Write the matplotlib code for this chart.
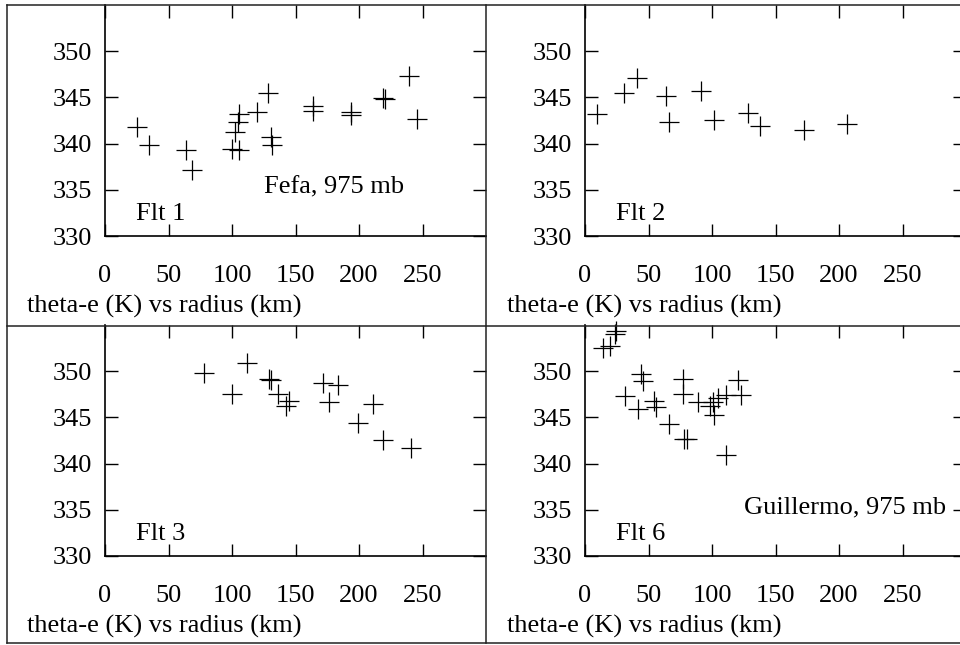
#!/usr/bin/env python
# theta-e vs radius, four flights in a 2x2 grid with boxed panels

import matplotlib
matplotlib.use('Agg')
import matplotlib.pyplot as plt
from matplotlib.lines import Line2D

plt.rcParams['font.family'] = ['Liberation Serif', 'DejaVu Serif']

# Flt 1 (Fefa)
flt1_r = [24.9, 34.6, 63.5, 68.5, 100.2, 105.7, 102.4, 104.5, 105.7, 119.4, 128.1,
          130.7, 131.7, 163.5, 163.5, 193.7, 193.7, 219.1, 220.5, 239.6, 245.4]
flt1_te = [341.75, 339.8, 339.26, 337.09, 339.44, 339.26, 341.21, 342.34, 343.2, 343.46, 345.49,
           340.67, 339.8, 344.03, 343.49, 343.38, 343.1, 344.94, 344.87, 347.36, 342.7]

# Flt 2
flt2_r = [9.7, 31.0, 41.2, 63.5, 66.4, 91.3, 101.8, 128.1, 137.8, 172.7, 206.0]
flt2_te = [343.2, 345.49, 347.07, 345.12, 342.3, 345.73, 342.59, 343.3, 341.86, 341.5, 342.15]

# Flt 3
flt3_r = [78.0, 100.3, 111.6, 129.4, 130.7, 136.5, 142.3, 144.9, 171.9, 183.2, 176.7,
          199.0, 211.3, 218.7, 241.0]
flt3_te = [349.82, 347.48, 350.94, 349.14, 349.03, 347.48, 346.25, 346.8, 348.67, 348.49, 346.68,
           344.41, 346.47, 342.54, 341.71]

# Flt 6 (Guillermo)
flt6_r = [13.9, 19.7, 23.6, 24.6, 43.8, 45.9, 31.5, 42.0, 54.3, 55.9, 66.1, 76.9, 77.4,
          78.2, 80.0, 88.7, 98.4, 101.6, 100.5, 105.0, 111.0, 120.7, 122.6, 110.8]
flt6_te = [352.52, 352.73, 354.07, 354.4, 349.67, 348.92, 347.33, 345.89, 346.82, 346.14, 344.27, 349.14, 347.58,
           342.65, 342.65, 346.68, 346.25, 345.24, 346.7, 347.15, 347.4, 349.03, 347.4, 340.98]

panels = [
    (flt1_r, flt1_te, 'Flt 1', 'Fefa, 975 mb'),
    (flt2_r, flt2_te, 'Flt 2', None),
    (flt3_r, flt3_te, 'Flt 3', None),
    (flt6_r, flt6_te, 'Flt 6', 'Guillermo, 975 mb'),
]

W, H = 960, 645
fig = plt.figure(figsize=(W / 100, H / 100), dpi=100)

# axes boxes in pixels: left, top, right, bottom
boxes = [(105, 5, 486, 236), (585, 5, 966, 236),
         (105, 325, 486, 556), (585, 325, 966, 556)]

fs = 19
for (r, te, flt, storm), (l, t, rr, b) in zip(panels, boxes):
    ax = fig.add_axes([l / W, (H - b) / H, (rr - l) / W, (b - t) / H])
    ax.plot(r, te, '+', color='black', markersize=14, markeredgewidth=0.9, clip_on=False)
    ax.set_xlim(0, 300)
    ax.set_ylim(330, 355)
    ax.set_xticks([0, 50, 100, 150, 200, 250])
    ax.set_yticks([330, 335, 340, 345, 350])
    ax.tick_params(axis='x', direction='in', length=9, width=1.0, top=True,
                   labelsize=fs, pad=21)
    ax.tick_params(axis='y', direction='in', length=9.5, width=1.0, right=True,
                   labelsize=fs, pad=9)
    for s in ['top', 'right']:
        ax.spines[s].set_visible(False)
    for s in ['left', 'bottom']:
        ax.spines[s].set_linewidth(1.2)
    ax.text(0.081, 0.069, flt, transform=ax.transAxes, fontsize=fs, va='baseline')
    if storm:
        ax.text(0.417, 0.186, storm, transform=ax.transAxes, fontsize=fs, va='baseline')
    ax.text(-0.205, -0.333, 'theta-e (K) vs radius (km)', transform=ax.transAxes,
            fontsize=fs, va='baseline', clip_on=False)

# panel frame lines
def fline(x0, y0, x1, y1):
    fig.add_artist(Line2D([x0 / W, x1 / W], [1 - y0 / H, 1 - y1 / H],
                          color='#222222', linewidth=1.1))

fline(7, 5, 960, 5)
fline(7, 326, 960, 326)
fline(7, 643, 960, 643)
fline(7, 5, 7, 643)
fline(486, 5, 486, 643)

fig.savefig('out.png', dpi=100)
